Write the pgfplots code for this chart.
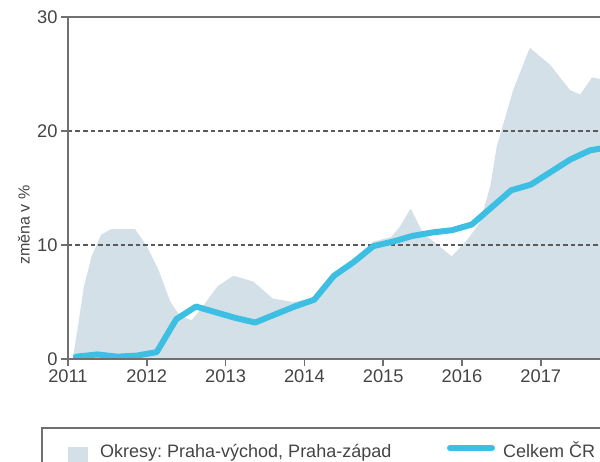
\documentclass[border=0pt]{standalone}
\usepackage{pgfplots}
\pgfplotsset{compat=1.18}
\usepackage{fontspec}
\setmainfont{Liberation Sans}
\frenchspacing
\definecolor{areacol}{HTML}{D4E0E8}
\definecolor{linecol}{HTML}{3CBFE3}
\definecolor{axiscol}{HTML}{707070}
\definecolor{gridcol}{HTML}{5A5A5A}
\definecolor{txtcol}{HTML}{444444}
\begin{document}
\begin{tikzpicture}[x=1pt,y=1pt]
\path[use as bounding box] (0,0) rectangle (600,462);
\clip (0,0) rectangle (600,462);
\begin{axis}[
  at={(68pt,103pt)}, anchor=south west,
  scale only axis, width=543.7pt, height=342pt,
  xmin=2011, xmax=2017.9, ymin=0, ymax=30,
  xtick={2011,2012,2013,2014,2015,2016,2017},
  ytick={0,10,20,30},
  xticklabel style={/pgf/number format/1000 sep={}},
  /pgf/number format/assume math mode=true,
  tick align=outside, major tick length=7pt,
  xtick pos=bottom, ytick pos=left,
  tick style={axiscol, line width=1.5pt},
  axis line style={axiscol, line width=2pt},
  ticklabel style={font=\fontsize{18.3}{21}\selectfont, text=txtcol},
  ylabel={změna v \%},
  ylabel style={font=\fontsize{16}{19}\selectfont, text=txtcol, at={(axis description cs:-0.081,0.392)}, anchor=center, rotate=0},
  axis on top,
  clip=false,
]
\addplot[fill=areacol, draw=none] coordinates {
(2011.06,0) (2011.125,2.8) (2011.2,6.3) (2011.3,9.0) (2011.42,10.9)
(2011.55,11.4) (2011.85,11.4) (2012.0,9.9) (2012.15,7.8) (2012.3,5.0)
(2012.42,3.8) (2012.57,3.4) (2012.72,4.7) (2012.9,6.4) (2013.1,7.3)
(2013.35,6.8) (2013.6,5.3) (2013.85,5.0) (2014.1,5.3) (2014.375,7.4)
(2014.625,8.7) (2014.875,10.3) (2015.1,10.7) (2015.2,11.5) (2015.35,13.2)
(2015.5,11.1) (2015.87,9.0) (2016.06,10.4) (2016.23,12.0) (2016.36,15.2)
(2016.44,18.6) (2016.65,23.6) (2016.86,27.3) (2017.12,25.8) (2017.37,23.6)
(2017.5,23.2) (2017.65,24.7) (2017.875,24.4)
} \closedcycle;
\draw[gridcol, line width=1.2pt, dash pattern=on 4.5pt off 3pt] (axis cs:2011,10) -- (axis cs:2017.9,10);
\draw[gridcol, line width=1.2pt, dash pattern=on 4.5pt off 3pt] (axis cs:2011,20) -- (axis cs:2017.9,20);
\addplot[linecol, line width=6pt, line join=round, line cap=round] coordinates {
(2011.1,0.2) (2011.375,0.4) (2011.625,0.2) (2011.875,0.3) (2012.125,0.6)
(2012.375,3.5) (2012.625,4.6) (2012.875,4.1) (2013.125,3.6) (2013.375,3.2)
(2013.625,3.9) (2013.875,4.6) (2014.125,5.2) (2014.375,7.3) (2014.625,8.5)
(2014.875,9.9) (2015.125,10.3) (2015.375,10.8) (2015.625,11.1) (2015.875,11.3)
(2016.125,11.8) (2016.375,13.3) (2016.625,14.8) (2016.875,15.3) (2017.125,16.4)
(2017.375,17.5) (2017.625,18.3) (2017.875,18.6)
};
\end{axis}
% legend
\draw[axiscol, line width=1.5pt] (42,34) rectangle (640,-30);
\fill[areacol] (68,15) rectangle (88,-5);
\draw[linecol, line width=6pt, line cap=round] (450,14) -- (492,14);
\node[anchor=base west, inner sep=0pt, text=txtcol, font=\fontsize{18}{21}\selectfont] at (100,4) {Okresy: Praha-východ, Praha-západ};
\node[anchor=base west, inner sep=0pt, text=txtcol, font=\fontsize{18}{21}\selectfont] at (503,4) {Celkem ČR};
\end{tikzpicture}
\end{document}
